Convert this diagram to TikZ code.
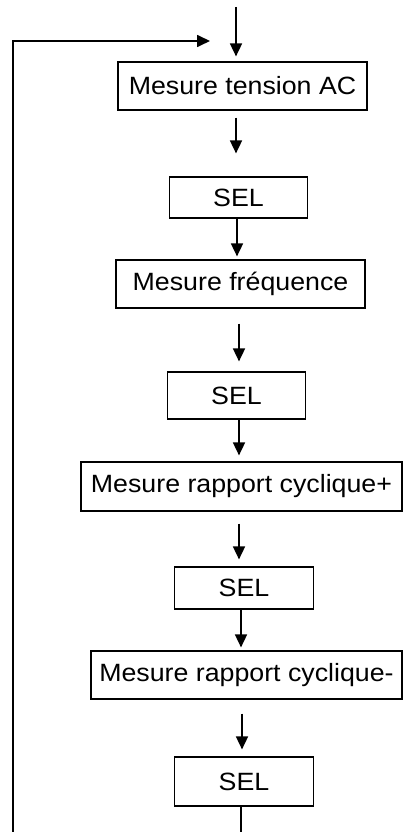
\documentclass[tikz,border=0pt]{standalone}
\usepackage{fontspec}
\setmainfont{Liberation Sans}[FakeStretch=1.07]
\usetikzlibrary{arrows.meta,positioning}

\begin{document}
\begin{tikzpicture}[x=1pt,y=-1pt,
	etape/.style={draw,line width=1.2pt,inner sep=0pt,minimum height=48pt,font=\fontsize{25}{30}\selectfont},
	sel/.style={etape,minimum width=138.5pt},
	fleche/.style={line width=1.7pt,-{Triangle[length=13pt,width=12pt]}}]
	\useasboundingbox (0,0) rectangle (403,832);
	\node[etape,minimum width=249pt] (tension) at (242.5,86) {Mesure tension AC};
	\node[sel,minimum height=41pt] (sel1) at (238.5,197.5) {SEL};
	\node[etape,minimum width=249pt] (freq) at (240.5,284) {Mesure fréquence};
	\node[sel,minimum height=47pt] (sel2) at (236.5,395.5) {SEL};
	\node[etape,minimum width=321pt,minimum height=49pt] (plus) at (241.5,486.5) {Mesure rapport cyclique+};
	\node[sel,minimum height=42pt] (sel3) at (244,588) {SEL};
	\node[etape,minimum width=311pt] (moins) at (246.5,675) {Mesure rapport cyclique-};
	\node[sel,minimum height=49pt] (sel4) at (244,781.5) {SEL};
	\coordinate (entree) at (236,7);
	\coordinate (bas) at (241,832);
	\coordinate (retour) at (13,832);
	\coordinate (haut) at (210,41);
	\draw[fleche,shorten >=5pt] (entree) -- (236,0 |- tension.north);
	\draw[fleche,shorten <=7pt,shorten >=23pt] (236,0 |- tension.south) -- (236,0 |- sel1.north);
	\draw[fleche,shorten >=3pt] (237,0 |- sel1.south) -- (237,0 |- freq.north);
	\draw[fleche,shorten <=15pt,shorten >=10pt] (239,0 |- freq.south) -- (239,0 |- sel2.north);
	\draw[fleche,shorten >=6pt] (239,0 |- sel2.south) -- (239,0 |- plus.north);
	\draw[fleche,shorten <=12pt,shorten >=7pt] (239,0 |- plus.south) -- (239,0 |- sel3.north);
	\draw[fleche,shorten >=3pt] (241,0 |- sel3.south) -- (241,0 |- moins.north);
	\draw[fleche,shorten <=14pt,shorten >=7pt] (242,0 |- moins.south) -- (242,0 |- sel4.north);
	\draw[line width=1.7pt] (241,0 |- sel4.south) -- (bas);
	\draw[fleche] (retour) |- (haut);
\end{tikzpicture}
\end{document}
